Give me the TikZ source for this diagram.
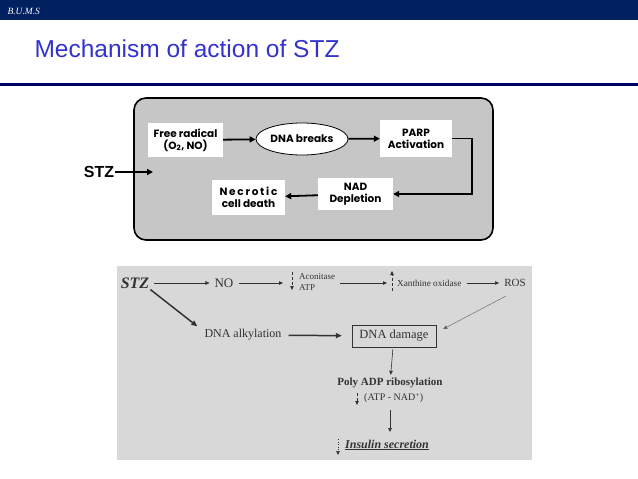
\documentclass[tikz,border=0pt]{standalone}
\usepackage{fontspec}
\setmainfont{Liberation Serif}
\setsansfont{Liberation Sans}
\newfontfamily\gothic{Poppins}
\usepackage{xcolor}
\definecolor{cBar}{HTML}{002060}
\definecolor{cRule}{HTML}{000066}
\definecolor{cTitle}{HTML}{3333CC}
\definecolor{cPanel}{HTML}{C6C6C6}
\definecolor{cPaper}{HTML}{D8D8D8}
\definecolor{cInk}{HTML}{333333}
\usetikzlibrary{positioning,arrows.meta,shapes.geometric}
\tikzset{
  node-cell/.style={fill=white,inner sep=2pt,align=center,
    font=\gothic\bfseries\fontsize{10.5}{12}\selectfont},
  node-oval/.style={draw,thick,fill=white,ellipse,inner sep=1pt,
    minimum width=90pt,minimum height=32pt,font=\gothic\bfseries\fontsize{10.5}{12}\selectfont},
  node-txt/.style={text=cInk,inner sep=1pt,font=\fontsize{12}{13}\selectfont},
  arrow/.style={-{Triangle[length=6pt,width=6pt]},line width=1.8pt},
  arrow-thin/.style={-{Triangle[length=4pt,width=3.5pt]},thin,draw=cInk,
    shorten <=4pt,shorten >=4pt},
  arrow-bold/.style={-{Triangle[length=6pt,width=5pt]},line width=1.5pt,draw=cInk},
  arrow-dash/.style={-{Triangle[length=4pt,width=3.5pt]},densely dashed,thin,draw=cInk},
}
\begin{document}
\begin{tikzpicture}[x=1pt,y=-1pt]
  \useasboundingbox (0,0) rectangle (638,479);
  % header
  \fill[cBar] (0,0) rectangle (638,20);
  \node[anchor=west,text=white,font=\itshape\fontsize{9.5}{9.5}\selectfont] (org) at (4,11) {B.U.M.S};
  \node[anchor=west,text=cTitle,font=\sffamily\fontsize{24.5}{24.5}\selectfont] (title) at (31,49)
    {Mechanism of action of STZ};
  \draw[cRule,line width=3.5pt] (0,84.5) -- (638,84.5);

  % upper panel
  \draw[line width=1.6pt,fill=cPanel,rounded corners=12pt] (134,98) rectangle (493,240);
  \node[node-cell,minimum width=75pt,minimum height=34pt] (rad) at (185.5,140)
    {Free radical\\(O\textsubscript{2}, NO)};
  \node[node-oval] (brk) at (302,139) {DNA breaks};
  \node[node-cell,minimum width=72pt,minimum height=37pt] (parp) at (416,138.5) {PARP\\Activation};
  \node[node-cell,minimum width=75pt,minimum height=32pt] (nad) at (355.5,194) {NAD\\Depletion};
  \node[node-cell,minimum width=73pt,minimum height=35pt] (necro) at (248.5,197.5)
    {N\,e\,c\,r\,o\,t\,i\,c\\cell death};
  \node[font=\sffamily\bfseries\fontsize{16}{16}\selectfont,inner sep=1pt] (stz) at (99,172) {STZ};
  \coordinate (stzin) at (153,172);
  \draw[arrow] (stz) -- (stzin);
  \draw[arrow] (rad) -- (brk);
  \draw[arrow] (brk) -- (parp);
  \draw[arrow] (parp.east) -- ++(20,0) |- (nad.east);
  \draw[arrow] (nad) -- (necro);

  % lower panel
  \fill[cPaper] (117,266) rectangle (532,460);
  \node[node-txt,font=\bfseries\itshape\fontsize{16}{16}\selectfont] (stz2) at (135,283) {STZ};
  \node[node-txt,font=\fontsize{13}{14}\selectfont] (no) at (224,283) {NO};
  \coordinate (acdn) at (292,281);
  \node[node-txt,anchor=west,align=left,font=\fontsize{9}{11}\selectfont] (acon) at (298,282)
    {Aconitase\\ATP};
  \coordinate (xoup) at (392,281);
  \node[node-txt,anchor=west,font=\fontsize{9.2}{10}\selectfont] (xo) at (396,283) {Xanthine oxidase};
  \node[node-txt,font=\fontsize{11}{12}\selectfont] (ros) at (515,283) {ROS};
  \node[node-txt] (alk) at (243,335) {DNA alkylation};
  \node[node-txt,draw=cInk,thin,minimum width=84pt,minimum height=22pt,font=\fontsize{12.5}{13}\selectfont]
    (dmg) at (394,336) {DNA damage};
  \node[node-txt,font=\bfseries\fontsize{11}{12}\selectfont] (poly) at (390,383) {Poly ADP ribosylation};
  \coordinate (atpdn) at (357,399);
  \node[node-txt,anchor=west,font=\fontsize{10}{11}\selectfont] (atp) at (363,398) {(ATP - NAD\textsuperscript{+})};
  \coordinate (insdn) at (338,447);
  \node[node-txt,anchor=west,font=\bfseries\itshape\fontsize{12}{13}\selectfont] (ins) at (344,445)
    {\underline{Insulin secretion}};
  \coordinate (rostail) at (506,296);

  \draw[arrow-thin] (stz2) -- (no);
  \draw[arrow-thin,shorten >=0pt] (no) -- ([xshift=-9pt]acdn |- no);
  \draw[arrow-thin,shorten <=0pt,shorten >=0pt] ([xshift=4pt]acon.east |- no) -- ([xshift=-5pt]xoup |- no);
  \draw[arrow-thin] (xo) -- (ros);
  \draw[arrow-dash] ([yshift=9pt]acdn) -- ([yshift=-9pt]acdn);
  \draw[arrow-dash] ([yshift=-10pt]xoup) -- ([yshift=10pt]xoup);
  \draw[arrow-bold] (stz2.south east) -- ([shift={(-6pt,2pt)}]alk.north west);
  \draw[arrow-bold,shorten <=6pt,shorten >=10pt] (alk) -- (dmg);
  \draw[-{Triangle[length=4pt,width=3.5pt]},thin,draw=cInk!80] (rostail) -- ([shift={(7pt,7pt)}]dmg.east);
  \draw[arrow-thin,semithick,shorten <=2pt,shorten >=2pt] (dmg) -- (poly);
  \draw[arrow-dash] ([yshift=6pt]atpdn) -- ([yshift=-6pt]atpdn);
  \draw[arrow-thin,semithick,shorten <=0pt,shorten >=0pt] ([yshift=-6pt]poly.south |- atp.south) -- ++(0,22);
  \draw[arrow-dash,semithick,dotted] ([yshift=8pt]insdn) -- ([yshift=-8pt]insdn);
\end{tikzpicture}
\end{document}
